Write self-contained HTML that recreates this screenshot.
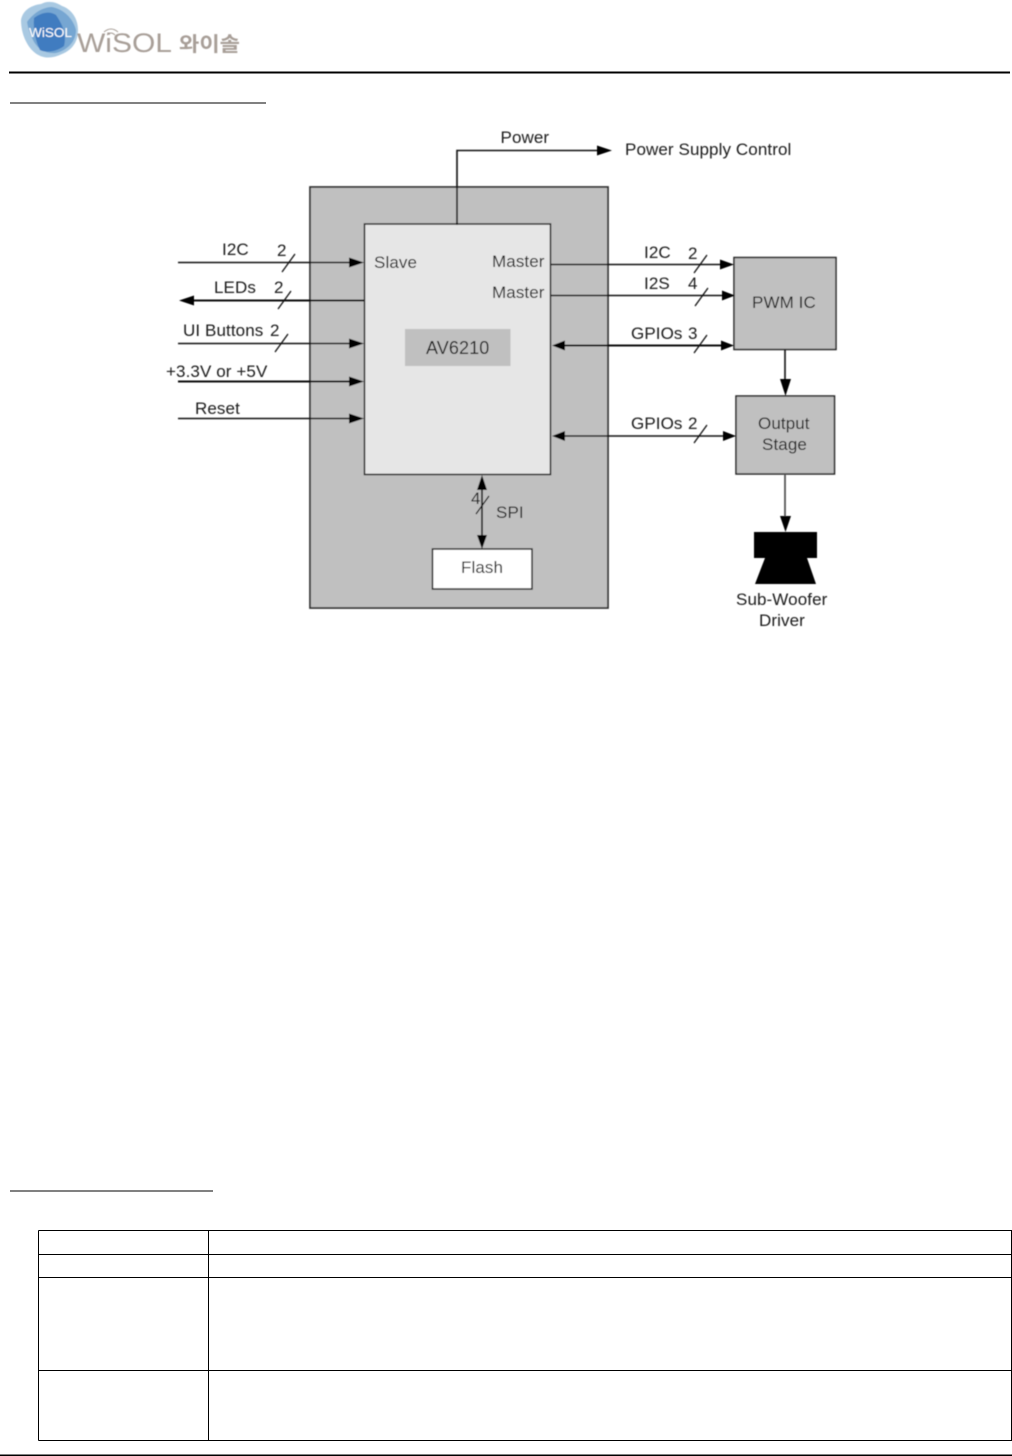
<!DOCTYPE html>
<html><head><meta charset="utf-8">
<style>
html,body{margin:0;padding:0;background:#fff;width:1012px;height:1456px;overflow:hidden}
svg{display:block;position:absolute;left:0;top:0}
text{font-family:"Liberation Sans",sans-serif;fill:#1c1c1c;font-size:17px;letter-spacing:.1px}
</style></head><body>
<svg width="1012" height="1456" viewBox="0 0 1012 1456" xmlns="http://www.w3.org/2000/svg">
<defs>
<filter id="b" x="-5%" y="-5%" width="110%" height="110%"><feGaussianBlur stdDeviation="0.4"/></filter>
</defs>

<!-- logo -->
<g filter="url(#b)">
<path d="M21 20C23 9 33 5 41 4C48 0 56 2 62 6C71 9 78 18 78 30C78 42 72 50 62 54C52 59 42 59 34 52C27 46 21 34 21 20Z" fill="#a9c9e2"/>
<path d="M27 22C34 12 44 7 52 7C63 9 73 18 76 30C76 41 68 50 56 53C44 54 37 48 33 40C30 34 28 28 27 22Z" fill="#76a6d2"/>
<path d="M34 18C42 12 50 11 56 15C62 24 67 34 64 46C56 52 46 53 40 50C36 42 33 30 34 18Z" fill="#3f7cc0"/>
<text x="29" y="37" style="font-size:13px;fill:#fff;letter-spacing:0" textLength="43" lengthAdjust="spacingAndGlyphs">WiSOL</text>
<text x="77" y="52" style="font-size:27px;fill:#a89f98;letter-spacing:0" textLength="95" lengthAdjust="spacingAndGlyphs">WiSOL</text>
<path d="M104 32Q111 26 118 32M107 35Q111 31 115 35" fill="none" stroke="#a89f98" stroke-width="1"/>
<text x="179" y="51" style='font-family:"Liberation Sans","Noto Sans CJK KR",sans-serif;font-size:20px;fill:#a89f98;font-weight:bold;letter-spacing:0' textLength="61" lengthAdjust="spacingAndGlyphs">와이솔</text>
</g>

<!-- page lines -->
<rect x="9" y="71.5" width="1001" height="2" fill="#000"/>
<rect x="10" y="102.5" width="256" height="1" fill="#000"/>
<rect x="10" y="1190.5" width="203" height="1" fill="#000"/>
<rect x="0" y="1454.5" width="1012" height="1.5" fill="#000"/>

<!-- table -->
<g fill="none" stroke="#000" stroke-width="1">
<path d="M38.5 1230.5H1012M38.5 1254.5H1012M38.5 1277.5H1012M38.5 1370.5H1012M38.5 1440.5H1012"/>
<path d="M38.5 1230.5V1440.5M208.5 1230.5V1440.5M1011.5 1230.5V1440.5"/>
</g>

<!-- diagram -->
<g filter="url(#b)">
<rect x="310" y="187" width="298" height="421" fill="#c0c0c0" stroke="#2e2e2e" stroke-width="1.7"/>
<rect x="364.500" y="224" width="186" height="250.500" fill="#e6e6e6" stroke="#222" stroke-width="1.500"/>
<rect x="405" y="329" width="105.500" height="37" fill="#c0c0c0"/>
<rect x="734" y="257.500" width="102" height="92" fill="#c0c0c0" stroke="#222" stroke-width="1.500"/>
<rect x="736" y="396" width="98.500" height="78" fill="#c0c0c0" stroke="#222" stroke-width="1.500"/>
<rect x="432.500" y="549" width="99.500" height="40" fill="#fff" stroke="#222" stroke-width="1.500"/>

<g fill="none" stroke="#111" stroke-width="1.600">
<path d="M457 225V150.500H600"/>
<path d="M178 262.500H352"/>
<path d="M190 300.500H364" stroke-width="2"/>
<path d="M178 343.500H352"/>
<path d="M178 381.500H352" stroke-width="2"/>
<path d="M178 418.500H352"/>
<path d="M551 264.500H722"/>
<path d="M551 295.500H722"/>
<path d="M564 345.500H722" stroke-width="2"/>
<path d="M564 436H724"/>
<path d="M482 488V537"/>
<path d="M785 350V380"/>
<path d="M785 474V518" stroke="#555" stroke-width="1.800"/>
<!-- slashes -->
<path d="M282 272L295 254M278 309L291 291M275 352L288 334" stroke-width="1.300"/>
<path d="M694 273L707 255M695 306L708 288M694 353L707 335M694 443L707 425M476 514L489 496" stroke-width="1.300"/>
</g>

<g fill="#000">
<path d="M597 145.500L612 150.500L597 155.500Z"/>
<path d="M349 257.500L364 262.500L349 267.500Z"/>
<path d="M194 295.500L179 300.500L194 305.500Z"/>
<path d="M349 338.500L364 343.500L349 348.500Z"/>
<path d="M349 376.500L364 381.500L349 386.500Z"/>
<path d="M349 413.500L364 418.500L349 423.500Z"/>
<path d="M720 259.500L734 264.500L720 269.500Z"/>
<path d="M722 290.500L735 295.500L722 300.500Z"/>
<path d="M565 340.500L552 345.500L565 350.500Z"/>
<path d="M721 340.500L734 345.500L721 350.500Z"/>
<path d="M565 431L552 436L565 441Z"/>
<path d="M723 431L736 436L723 441Z"/>
<path d="M477 490L482 475L487 490Z"/>
<path d="M477 535L482 549L487 535Z"/>
<path d="M780 379L785.500 396L791 379Z"/>
<path d="M780 516L785.500 532L791 516Z"/>
<path d="M754 532H817V558H807L816 584H755L765 558H754Z"/>
</g>

<text x="500.500" y="143">Power</text>
<text x="625" y="155">Power Supply Control</text>
<text x="222" y="255">I2C</text>
<text x="277" y="256">2</text>
<text x="214" y="293">LEDs</text>
<text x="274" y="293">2</text>
<text x="183" y="336">UI Buttons</text>
<text x="270" y="336">2</text>
<text x="166" y="377">+3.3V or +5V</text>
<text x="195" y="414">Reset</text>
<text x="374" y="268">Slave</text>
<text x="492" y="267">Master</text>
<text x="492" y="298">Master</text>
<text x="426" y="354" style="font-size:18px">AV6210</text>
<text x="644" y="258">I2C</text>
<text x="688" y="259">2</text>
<text x="644" y="289">I2S</text>
<text x="688" y="289">4</text>
<text x="631" y="339">GPIOs</text>
<text x="688" y="339">3</text>
<text x="631" y="429">GPIOs</text>
<text x="688" y="429">2</text>
<text x="752" y="308">PWM IC</text>
<text x="758" y="429">Output</text>
<text x="762" y="450">Stage</text>
<text x="471" y="504">4</text>
<text x="496" y="518">SPI</text>
<text x="461" y="573">Flash</text>
<text x="736" y="605">Sub-Woofer</text>
<text x="759" y="626">Driver</text>
</g>
</svg>
</body></html>
